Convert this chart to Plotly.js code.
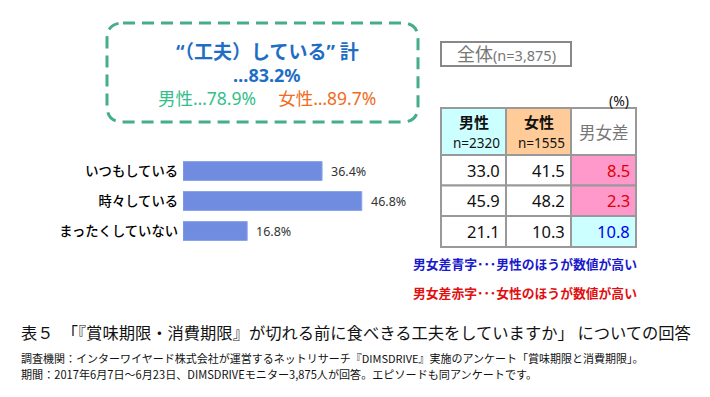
<!DOCTYPE html>
<html><head><meta charset="utf-8">
<script src="https://cdn.plot.ly/plotly-3.0.1.min.js"></script>
<style>html,body{margin:0;padding:0;background:#fff}#c{width:710px;height:397px}</style>
</head><body><div id="c"></div>
<script>
// Data
const categories = ["いつもしている", "時々している", "まったくしていない"];
const totalValues = [36.4, 46.8, 16.8];
const maleValues = [33.0, 45.9, 21.1];
const femaleValues = [41.5, 48.2, 10.3];
const diffValues = [8.5, 2.3, 10.8];
const diffHigher = ["female", "female", "male"];
const headerTop = ["男性", "女性", "男女差"];
const headerSub = ["n=2320", "n=1555", ""];

const W = 710, H = 397;
const px = x => x / W, py = y => 1 - y / H;
const F = '"Noto Sans CJK JP", "Noto Sans", sans-serif';
const FL = '"Noto Sans", "Noto Sans CJK JP", sans-serif';

const barTrace = {
  type: 'bar', orientation: 'h', x: totalValues, y: categories,
  marker: {color: '#6f8ce0', line: {color: '#8aa2ea', width: 1}},
  width: 0.63, hoverinfo: 'skip'
};

const fmt = v => v.toFixed(1);
const annotations = [];
const shapes = [];

// bar value labels
categories.forEach((c, i) => annotations.push({
  x: totalValues[i], y: c, xref: 'x', yref: 'y', text: fmt(totalValues[i]) + '%',
  showarrow: false, xanchor: 'left', xshift: 7, font: {family: FL, size: 12.5, color: '#333'}
}));

const pa = (x, y, text, font, xanchor = 'center') => annotations.push({
  x: px(x), y: py(y), xref: 'paper', yref: 'paper', text, showarrow: false,
  xanchor, yanchor: 'middle', font: Object.assign({family: F}, font)
});
const rect = (x0, y0, x1, y1, fill, lineColor, lw) => shapes.push({
  type: 'rect', xref: 'paper', yref: 'paper', x0: px(x0), x1: px(x1), y0: py(y1), y1: py(y0),
  fillcolor: fill, line: {color: lineColor, width: lw}, layer: 'below'
});

// Rounded dashed box
const bx0 = px(107), bx1 = px(418), by0 = py(122), by1 = py(23);
const rx = 16 / W, ry = 16 / H;
shapes.push({type: 'path', xref: 'paper', yref: 'paper',
  path: `M ${bx0 + rx},${by1} L ${bx1 - rx},${by1} Q ${bx1},${by1} ${bx1},${by1 - ry} L ${bx1},${by0 + ry} Q ${bx1},${by0} ${bx1 - rx},${by0} L ${bx0 + rx},${by0} Q ${bx0},${by0} ${bx0},${by0 + ry} L ${bx0},${by1 - ry} Q ${bx0},${by1} ${bx0 + rx},${by1} Z`,
  line: {color: '#45ad8e', width: 3, dash: '12px,7px'}});

pa(267, 52, '<b>“（工夫）している” 計</b>', {family: FL, size: 19, color: '#1f6ec4'});
pa(267, 75, '<b>…83.2%</b>', {family: FL, size: 18, color: '#1f6ec4'});
pa(267, 98, '<span style="color:#33bf8c">男性…78.9%</span>　 <span style="color:#f26b21">女性…89.7%</span>', {family: FL, size: 17.5, color: '#33bf8c'});

// Gray box
rect(441, 42, 571, 66, 'rgba(0,0,0,0)', '#888', 2);
pa(506, 54, '全体<span style="font-size:14.5px">(n=3,875)</span>', {family: FL, size: 18, color: '#777'});
pa(619, 100, '(%)', {family: FL, size: 14, color: '#111'});

// Table
const colX = [441, 506, 571, 636];
const rowY = [108, 155, 185.5, 216, 247];
const headerFill = ['#ccffff', '#ffcc99', '#ffffff'];
const cols = [maleValues, femaleValues, diffValues];
for (let c = 0; c < 3; c++) {
  rect(colX[c], rowY[0], colX[c + 1], rowY[1], headerFill[c], '#999', 2);
  const cx = (colX[c] + colX[c + 1]) / 2;
  if (headerSub[c]) {
    pa(cx, 121, '<b>' + headerTop[c] + '</b>', {size: 15, color: '#111'});
    pa(cx + 3, 143, headerSub[c], {family: FL, size: 13.5, color: '#111'});
  } else {
    pa(cx, 132, headerTop[c], {size: 16.5, color: '#777'});
  }
  cols[c].forEach((v, r) => {
    let fill = '#ffffff', col = '#111';
    if (c === 2) {
      fill = diffHigher[r] === 'female' ? '#ff99cc' : '#ccffff';
      col = diffHigher[r] === 'female' ? '#e00000' : '#0000ee';
    }
    rect(colX[c], rowY[r + 1], colX[c + 1], rowY[r + 2], fill, '#999', 2);
    pa(colX[c + 1] - 4, (rowY[r + 1] + rowY[r + 2]) / 2, fmt(v), {family: FL, size: 16.5, color: col}, 'right');
  });
}

pa(411, 263, '<b>男女差青字･･･男性のほうが数値が高い</b>', {size: 12.8, color: '#1a1acc'}, 'left');
pa(411, 292, '<b>男女差赤字･･･女性のほうが数値が高い</b>', {size: 12.8, color: '#e01010'}, 'left');
pa(19, 332, '表５　「『賞味期限・消費期限』が切れる前に食べきる工夫をしていますか」 についての回答', {size: 16.3, color: '#111'}, 'left');
pa(19, 358, '調査機関：インターワイヤード株式会社が運営するネットリサーチ『DIMSDRIVE』実施のアンケート「賞味期限と消費期限」。', {size: 11, color: '#111'}, 'left');
pa(19, 374, '期間：2017年6月7日～6月23日、DIMSDRIVEモニター3,875人が回答。エピソードも同アンケートです。', {size: 11.1, color: '#111'}, 'left');

const layout = {
  width: W, height: H, margin: {l: 0, r: 0, t: 0, b: 0},
  paper_bgcolor: '#fff', plot_bgcolor: 'rgba(0,0,0,0)', showlegend: false,
  font: {family: F},
  xaxis: {domain: [px(183), px(183 + 60 * 3.82)], range: [0, 60], visible: false, fixedrange: true},
  yaxis: {domain: [py(246), py(156)], range: [2.5, -0.5], type: 'category',
          showline: false, showgrid: false, zeroline: false, ticks: '',
          ticklabelstandoff: 4,
          tickfont: {family: F, size: 13.3, color: '#000', weight: 500}},
  shapes, annotations
};

Plotly.newPlot('c', [barTrace], layout, {displayModeBar: false, staticPlot: true});
</script></body></html>
